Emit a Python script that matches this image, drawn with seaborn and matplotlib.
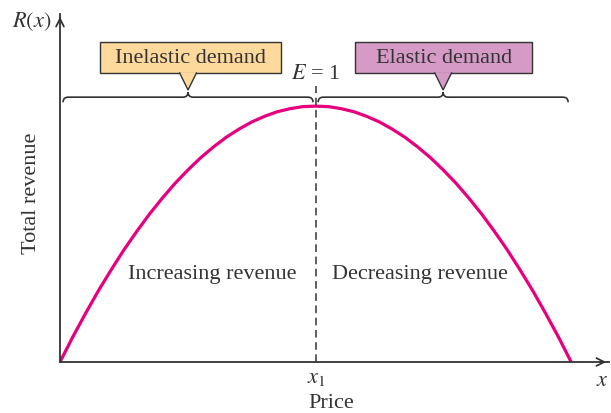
import matplotlib
matplotlib.use('Agg')
import matplotlib.pyplot as plt
from matplotlib.path import Path
from matplotlib.patches import PathPatch, Polygon, Rectangle
import pandas as pd
import seaborn as sns

sns.set_style('white')
plt.rcParams['font.family'] = ['Liberation Serif', 'DejaVu Serif']
plt.rcParams['mathtext.fontset'] = 'stix'

# values (price in arbitrary units, revenue as % of max)
price = [0, 0.25, 0.5, 0.75, 1, 1.25, 1.5, 1.75, 2, 2.25, 2.5, 2.75, 3, 3.25,
         3.5, 3.75, 4, 4.25, 4.5, 4.75, 5,
         5.25, 5.5, 5.75, 6, 6.25, 6.5, 6.75, 7, 7.25, 7.5, 7.75, 8, 8.25,
         8.5, 8.75, 9, 9.25, 9.5, 9.75, 10]
revenue = [0, 9.8, 19, 27.8, 36, 43.8, 51, 57.8, 64, 69.8, 75, 79.8, 84, 87.8,
           91, 93.8, 96, 97.8, 99, 99.8, 100,
           99.8, 99, 97.8, 96, 93.8, 91, 87.8, 84, 79.8, 75, 69.8, 64, 57.8,
           51, 43.8, 36, 27.8, 19, 9.8, 0]
x1 = 5
regions = ['Inelastic demand', 'Elastic demand']
region_colors = ['#FDD99B', '#D59AC6']
region_labels = ['Increasing revenue', 'Decreasing revenue']

ink = '#333333'
df = pd.DataFrame({'price': price, 'revenue': revenue})

fig = plt.figure(figsize=(6.11, 4.13), dpi=100)
ax = fig.add_axes([60/611, 51/413, 549/611, 348/413])
sns.lineplot(data=df, x='price', y='revenue', color='#E6007E', lw=2.3, ax=ax)
ax.set_xlim(0, 10.74)
ax.set_ylim(0, 136)
ax.set_xticks([])
ax.set_yticks([])
ax.set_xlabel('')
ax.set_ylabel('')
for s in ['top', 'right']:
    ax.spines[s].set_visible(False)
for s in ['left', 'bottom']:
    ax.spines[s].set_color(ink)
    ax.spines[s].set_linewidth(1.3)

# arrow heads on the axes
ax.annotate('', xy=(1.0, 0), xytext=(0.98, 0), xycoords='axes fraction',
            arrowprops=dict(arrowstyle='->', color=ink, lw=1.3, mutation_scale=14),
            annotation_clip=False)
ax.annotate('', xy=(0, 1.0), xytext=(0, 0.98), xycoords='axes fraction',
            arrowprops=dict(arrowstyle='->', color=ink, lw=1.3, mutation_scale=14),
            annotation_clip=False)

# E = 1 divider
ax.plot([x1, x1], [0, 108], ls=(0, (5, 3)), color=ink, lw=1.1)
ax.text(x1, 112.5, '$E$ = 1', ha='center', va='center', fontsize=16, color=ink)


def brace(ax, xa, xb, y, dx=0.1, dy=2.0):
    xm = (xa + xb) / 2
    verts = [(xa, y - dy), (xa, y), (xa + dx, y),
             (xm - dx, y), (xm, y), (xm, y + dy),
             (xm, y), (xm + dx, y),
             (xb - dx, y), (xb, y), (xb, y - dy)]
    codes = [Path.MOVETO, Path.CURVE3, Path.CURVE3,
             Path.LINETO, Path.CURVE3, Path.CURVE3,
             Path.CURVE3, Path.CURVE3,
             Path.LINETO, Path.CURVE3, Path.CURVE3]
    ax.add_patch(PathPatch(Path(verts, codes), fill=False, ec=ink, lw=1.2,
                           clip_on=False))
    return xm


spans = [(0.06, 4.95), (5.05, 9.94)]
boxes = [(0.78, 4.32), (5.77, 9.24)]
for (xa, xb), (bx0, bx1), name, col in zip(spans, boxes, regions, region_colors):
    xm = brace(ax, xa, xb, 103.5)
    ax.add_patch(Rectangle((bx0, 112.9), bx1 - bx0, 12.3, fc=col, ec=ink,
                           lw=1.0, clip_on=False, zorder=3))
    ax.add_patch(Polygon([(xm - 0.17, 113.2), (xm, 106.3), (xm + 0.17, 113.2)],
                         closed=False, fc=col, ec=ink, lw=1.0, clip_on=False,
                         zorder=4))
    ax.text((bx0 + bx1) / 2, 118.8, name, ha='center', va='center',
            fontsize=16, color=ink, zorder=5)

ax.text(2.97, 34, region_labels[0], ha='center', va='center', fontsize=16, color=ink)
ax.text(7.05, 34, region_labels[1], ha='center', va='center', fontsize=16, color=ink)

fig.text(12/611, 1 - 22/413, '$R(x)$', ha='left', va='center', fontsize=16, color=ink)
fig.text(31/611, 1 - 193/413, 'Total revenue', rotation=90, ha='center', va='center',
         fontsize=16, color=ink)
fig.text(316/611, 1 - 379/413, '$x_1$', ha='center', va='center', fontsize=16, color=ink)
fig.text(331/611, 1 - 403/413, 'Price', ha='center', va='center', fontsize=16, color=ink)
fig.text(596/611, 1 - 381/413, '$x$', ha='left', va='center', fontsize=16, color=ink)

fig.savefig('out.png', dpi=100)
